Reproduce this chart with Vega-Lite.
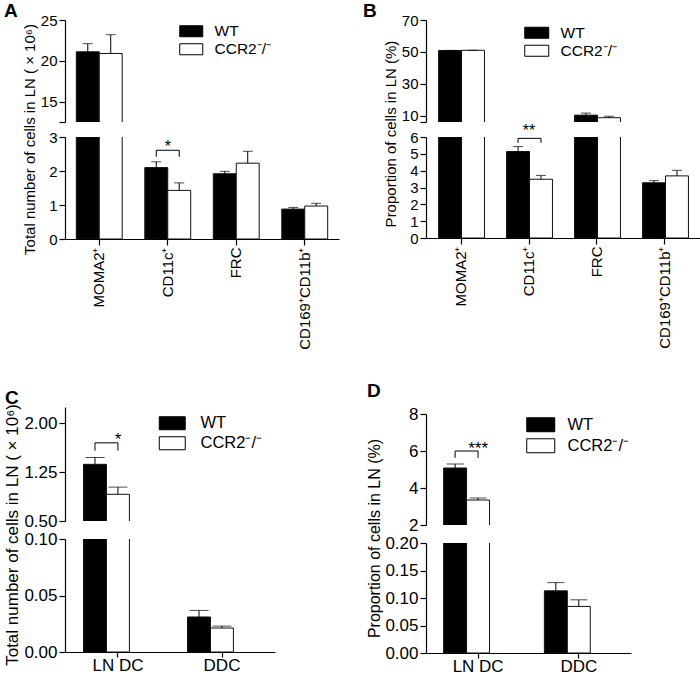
{
  "$schema": "https://vega.github.io/schema/vega-lite/v6.json",
  "background": "white",
  "padding": {"left": 2, "top": 2, "right": 0, "bottom": 0},
  "datasets": {
    "A": [
      {"cat": "MOMA2⁺", "grp": "WT", "v": 21.1, "e": 22.1},
      {"cat": "MOMA2⁺", "grp": "CCR2⁻/⁻", "v": 20.9, "e": 23.2},
      {"cat": "CD11c⁺", "grp": "WT", "v": 2.1, "e": 2.27},
      {"cat": "CD11c⁺", "grp": "CCR2⁻/⁻", "v": 1.43, "e": 1.65},
      {"cat": "FRC", "grp": "WT", "v": 1.92, "e": 1.99},
      {"cat": "FRC", "grp": "CCR2⁻/⁻", "v": 2.23, "e": 2.58},
      {"cat": "CD169⁺CD11b⁺", "grp": "WT", "v": 0.88, "e": 0.93},
      {"cat": "CD169⁺CD11b⁺", "grp": "CCR2⁻/⁻", "v": 0.97, "e": 1.05}
    ],
    "Asig": [
      {"cat": "CD11c⁺", "grp": "WT", "y": 2.42, "o": 1},
      {"cat": "CD11c⁺", "grp": "WT", "y": 2.61, "o": 2},
      {"cat": "CD11c⁺", "grp": "CCR2⁻/⁻", "y": 2.61, "o": 3},
      {"cat": "CD11c⁺", "grp": "CCR2⁻/⁻", "y": 2.42, "o": 4}
    ],
    "Astar": [{"cat": "CD11c⁺", "y": 2.61, "t": "*"}],
    "B": [
      {"cat": "MOMA2⁺", "grp": "WT", "v": 50.9, "e": 50.9},
      {"cat": "MOMA2⁺", "grp": "CCR2⁻/⁻", "v": 51.0, "e": 51.0},
      {"cat": "CD11c⁺", "grp": "WT", "v": 5.14, "e": 5.43},
      {"cat": "CD11c⁺", "grp": "CCR2⁻/⁻", "v": 3.49, "e": 3.72},
      {"cat": "FRC", "grp": "WT", "v": 10.3, "e": 11.6},
      {"cat": "FRC", "grp": "CCR2⁻/⁻", "v": 8.7, "e": 9.6},
      {"cat": "CD169⁺CD11b⁺", "grp": "WT", "v": 3.28, "e": 3.41},
      {"cat": "CD169⁺CD11b⁺", "grp": "CCR2⁻/⁻", "v": 3.69, "e": 4.02}
    ],
    "Bsig": [
      {"cat": "CD11c⁺", "grp": "WT", "y": 5.65, "o": 1},
      {"cat": "CD11c⁺", "grp": "WT", "y": 5.92, "o": 2},
      {"cat": "CD11c⁺", "grp": "CCR2⁻/⁻", "y": 5.92, "o": 3},
      {"cat": "CD11c⁺", "grp": "CCR2⁻/⁻", "y": 5.65, "o": 4}
    ],
    "Bstar": [{"cat": "CD11c⁺", "y": 5.92, "t": "**"}],
    "C": [
      {"cat": "LN DC", "grp": "WT", "v": 1.37, "e": 1.475},
      {"cat": "LN DC", "grp": "CCR2⁻/⁻", "v": 0.91, "e": 1.02},
      {"cat": "DDC", "grp": "WT", "v": 0.031, "e": 0.0368},
      {"cat": "DDC", "grp": "CCR2⁻/⁻", "v": 0.0212, "e": 0.0229}
    ],
    "Csig": [
      {"cat": "LN DC", "grp": "WT", "y": 1.58, "o": 1},
      {"cat": "LN DC", "grp": "WT", "y": 1.7, "o": 2},
      {"cat": "LN DC", "grp": "CCR2⁻/⁻", "y": 1.7, "o": 3},
      {"cat": "LN DC", "grp": "CCR2⁻/⁻", "y": 1.58, "o": 4}
    ],
    "Cstar": [{"cat": "LN DC", "y": 1.7, "t": "*"}],
    "D": [
      {"cat": "LN DC", "grp": "WT", "v": 5.08, "e": 5.3},
      {"cat": "LN DC", "grp": "CCR2⁻/⁻", "v": 3.35, "e": 3.46},
      {"cat": "DDC", "grp": "WT", "v": 0.113, "e": 0.128},
      {"cat": "DDC", "grp": "CCR2⁻/⁻", "v": 0.0847, "e": 0.0967}
    ],
    "Dsig": [
      {"cat": "LN DC", "grp": "WT", "y": 5.63, "o": 1},
      {"cat": "LN DC", "grp": "WT", "y": 6.0, "o": 2},
      {"cat": "LN DC", "grp": "CCR2⁻/⁻", "y": 6.0, "o": 3},
      {"cat": "LN DC", "grp": "CCR2⁻/⁻", "y": 5.63, "o": 4}
    ],
    "Dstar": [{"cat": "LN DC", "y": 6.0, "t": "***"}]
  },
  "spacing": 24,
  "resolve": {"scale": {"fill": "independent"}, "legend": {"fill": "independent"}},
  "hconcat": [
    {
      "spacing": 39,
      "resolve": {"scale": {"fill": "independent"}, "legend": {"fill": "independent"}},
      "vconcat": [
        {
          "bounds": "flush",
          "spacing": 15,
          "resolve": {"scale": {"fill": "independent"}, "legend": {"fill": "independent"}},
          "vconcat": [
            {
              "title": {"text": "A", "frame": "group", "dx": -61, "dy": 12},
              "width": 274, "height": 102,
              "data": {"name": "A"},
              "layer": [
                {"mark": {"type": "bar", "clip": true, "stroke": "#111", "strokeWidth": 1},
                 "encoding": {
                   "x": {"field": "cat", "type": "nominal", "scale": {"domain": ["MOMA2⁺", "CD11c⁺", "FRC", "CD169⁺CD11b⁺"], "paddingInner": 0.33, "paddingOuter": 0.165}, "axis": null},
                   "xOffset": {"field": "grp", "type": "nominal", "scale": {"domain": ["WT", "CCR2⁻/⁻"]}},
                   "y": {"field": "v", "type": "quantitative", "scale": {"domain": [12.5, 25], "nice": false, "zero": false}, "axis": {"values": [12.5, 15, 20, 25], "tickCount": 40, "format": "d", "labelExpr": "datum.value == 12.5 ? '' : datum.label", "title": null, "labelOverlap": false}},
                   "y2": {"datum": 0},
                   "fill": {"field": "grp", "type": "nominal", "scale": {"domain": ["WT", "CCR2⁻/⁻"], "range": ["black", "white"]}, "legend": {"legendX": 118.5, "legendY": 3.5, "symbolType": "M-1.643,-0.786H1.643V0.786H-1.643Z", "symbolSize": 196, "labelOffset": 15.5, "rowPadding": 1, "labelFontSize": 15.5}}
                 }},
                {"mark": {"type": "rule", "clip": true, "color": "black"},
                 "encoding": {"x": {"field": "cat", "type": "nominal"}, "xOffset": {"field": "grp", "type": "nominal"}, "y": {"field": "v", "type": "quantitative"}, "y2": {"field": "e"}}},
                {"mark": {"type": "tick", "clip": true, "color": "black", "size": 10, "thickness": 1},
                 "encoding": {"x": {"field": "cat", "type": "nominal"}, "xOffset": {"field": "grp", "type": "nominal"}, "y": {"field": "e", "type": "quantitative"}}}
              ]
            },
            {
              "width": 274, "height": 102,
              "layer": [
                {"data": {"name": "A"}, "mark": {"type": "bar", "clip": true, "stroke": "#111", "strokeWidth": 1},
                 "encoding": {
                   "x": {"field": "cat", "type": "nominal", "scale": {"domain": ["MOMA2⁺", "CD11c⁺", "FRC", "CD169⁺CD11b⁺"], "paddingInner": 0.33, "paddingOuter": 0.165}, "axis": {"labelAngle": -90, "title": null, "labelFontSize": 15, "labelOverlap": false}},
                   "xOffset": {"field": "grp", "type": "nominal", "scale": {"domain": ["WT", "CCR2⁻/⁻"]}},
                   "y": {"field": "v", "type": "quantitative", "scale": {"domain": [0, 3], "nice": false}, "axis": {"values": [0, 1, 2, 3], "tickCount": 40, "format": "d", "labelOverlap": false, "title": "Total number of cells in LN ( × 10⁶)", "titleX": -31, "titleY": 2, "titleAngle": -90, "titleAlign": "center", "titleBaseline": "alphabetic"}},
                   "y2": {"datum": 0},
                   "fill": {"field": "grp", "type": "nominal", "scale": {"domain": ["WT", "CCR2⁻/⁻"], "range": ["black", "white"]}, "legend": null}
                 }},
                {"data": {"name": "A"}, "mark": {"type": "rule", "clip": true, "color": "black"},
                 "encoding": {"x": {"field": "cat", "type": "nominal"}, "xOffset": {"field": "grp", "type": "nominal"}, "y": {"field": "v", "type": "quantitative"}, "y2": {"field": "e"}}},
                {"data": {"name": "A"}, "mark": {"type": "tick", "clip": true, "color": "black", "size": 10, "thickness": 1},
                 "encoding": {"x": {"field": "cat", "type": "nominal"}, "xOffset": {"field": "grp", "type": "nominal"}, "y": {"field": "e", "type": "quantitative"}}},
                {"data": {"name": "Asig"}, "mark": {"type": "line", "color": "black", "strokeWidth": 1},
                 "encoding": {"x": {"field": "cat", "type": "nominal"}, "xOffset": {"field": "grp", "type": "nominal"}, "y": {"field": "y", "type": "quantitative"}, "order": {"field": "o"}}},
                {"data": {"name": "Astar"}, "mark": {"type": "text", "fontSize": 16, "baseline": "alphabetic", "dy": 2, "color": "black"},
                 "encoding": {"x": {"field": "cat", "type": "nominal"}, "y": {"field": "y", "type": "quantitative"}, "text": {"field": "t"}}}
              ]
            }
          ]
        },
        {
          "bounds": "flush",
          "spacing": 18,
          "resolve": {"scale": {"fill": "independent"}, "legend": {"fill": "independent"}},
          "vconcat": [
            {
              "title": {"text": "C", "frame": "group", "dx": -60, "dy": 5},
              "width": 210, "height": 114,
              "layer": [
                {"data": {"name": "C"}, "mark": {"type": "bar", "clip": true, "stroke": "#111", "strokeWidth": 1},
                 "encoding": {
                   "x": {"field": "cat", "type": "nominal", "scale": {"domain": ["LN DC", "DDC"], "paddingInner": 0.337, "paddingOuter": 0.178}, "axis": null},
                   "xOffset": {"field": "grp", "type": "nominal", "scale": {"domain": ["WT", "CCR2⁻/⁻"]}},
                   "y": {"field": "v", "type": "quantitative", "scale": {"domain": [0.5, 2.25], "nice": false, "zero": false}, "axis": {"values": [0.5, 1.25, 2.0], "tickCount": 40, "format": ".2f", "title": null, "labelFontSize": 17, "labelOverlap": false}},
                   "y2": {"datum": 0},
                   "fill": {"field": "grp", "type": "nominal", "scale": {"domain": ["WT", "CCR2⁻/⁻"], "range": ["black", "white"]}, "legend": {"legendX": 99, "legendY": 8, "symbolType": "M-1.857,-0.929H1.857V0.929H-1.857Z", "symbolSize": 196, "labelOffset": 20, "rowPadding": 2, "labelFontSize": 16.5}}
                 }},
                {"data": {"name": "C"}, "mark": {"type": "rule", "clip": true, "color": "black"},
                 "encoding": {"x": {"field": "cat", "type": "nominal"}, "xOffset": {"field": "grp", "type": "nominal"}, "y": {"field": "v", "type": "quantitative"}, "y2": {"field": "e"}}},
                {"data": {"name": "C"}, "mark": {"type": "tick", "clip": true, "color": "black", "size": 19, "thickness": 1},
                 "encoding": {"x": {"field": "cat", "type": "nominal"}, "xOffset": {"field": "grp", "type": "nominal"}, "y": {"field": "e", "type": "quantitative"}}},
                {"data": {"name": "Csig"}, "mark": {"type": "line", "color": "black", "strokeWidth": 1},
                 "encoding": {"x": {"field": "cat", "type": "nominal"}, "xOffset": {"field": "grp", "type": "nominal"}, "y": {"field": "y", "type": "quantitative"}, "order": {"field": "o"}}},
                {"data": {"name": "Cstar"}, "mark": {"type": "text", "fontSize": 17, "baseline": "alphabetic", "dy": 2, "color": "black"},
                 "encoding": {"x": {"field": "cat", "type": "nominal"}, "y": {"field": "y", "type": "quantitative"}, "text": {"field": "t"}}}
              ]
            },
            {
              "width": 210, "height": 113,
              "data": {"name": "C"},
              "layer": [
                {"mark": {"type": "bar", "clip": true, "stroke": "#111", "strokeWidth": 1},
                 "encoding": {
                   "x": {"field": "cat", "type": "nominal", "scale": {"domain": ["LN DC", "DDC"], "paddingInner": 0.337, "paddingOuter": 0.178}, "axis": {"labelAngle": 0, "title": null, "labelFontSize": 17, "tickSize": 5, "labelPadding": 0}},
                   "xOffset": {"field": "grp", "type": "nominal", "scale": {"domain": ["WT", "CCR2⁻/⁻"]}},
                   "y": {"field": "v", "type": "quantitative", "scale": {"domain": [0, 0.1], "nice": false}, "axis": {"values": [0, 0.05, 0.1], "tickCount": 40, "format": ".2f", "labelFontSize": 17, "labelOverlap": false, "title": "Total number of cells in LN ( × 10⁶)", "titleFontSize": 17, "titleX": -48, "titleY": -4.5, "titleAngle": -90, "titleAlign": "center", "titleBaseline": "alphabetic"}},
                   "y2": {"datum": 0},
                   "fill": {"field": "grp", "type": "nominal", "scale": {"domain": ["WT", "CCR2⁻/⁻"], "range": ["black", "white"]}, "legend": null}
                 }},
                {"mark": {"type": "rule", "clip": true, "color": "black"},
                 "encoding": {"x": {"field": "cat", "type": "nominal"}, "xOffset": {"field": "grp", "type": "nominal"}, "y": {"field": "v", "type": "quantitative"}, "y2": {"field": "e"}}},
                {"mark": {"type": "tick", "clip": true, "color": "black", "size": 19, "thickness": 1},
                 "encoding": {"x": {"field": "cat", "type": "nominal"}, "xOffset": {"field": "grp", "type": "nominal"}, "y": {"field": "e", "type": "quantitative"}}}
              ]
            }
          ]
        }
      ]
    },
    {
      "spacing": 33,
      "resolve": {"scale": {"fill": "independent"}, "legend": {"fill": "independent"}},
      "vconcat": [
        {
          "bounds": "flush",
          "spacing": 15,
          "resolve": {"scale": {"fill": "independent"}, "legend": {"fill": "independent"}},
          "vconcat": [
            {
              "title": {"text": "B", "frame": "group", "dx": -63, "dy": 12},
              "width": 274, "height": 102,
              "data": {"name": "B"},
              "layer": [
                {"mark": {"type": "bar", "clip": true, "stroke": "#111", "strokeWidth": 1},
                 "encoding": {
                   "x": {"field": "cat", "type": "nominal", "scale": {"domain": ["MOMA2⁺", "CD11c⁺", "FRC", "CD169⁺CD11b⁺"], "paddingInner": 0.34, "paddingOuter": 0.185}, "axis": null},
                   "xOffset": {"field": "grp", "type": "nominal", "scale": {"domain": ["WT", "CCR2⁻/⁻"]}},
                   "y": {"field": "v", "type": "quantitative", "scale": {"domain": [6, 70], "nice": false, "zero": false}, "axis": {"values": [6, 10, 30, 50, 70], "tickCount": 40, "format": "d", "labelExpr": "datum.value == 6 ? '' : datum.label", "title": null, "labelOverlap": false}},
                   "y2": {"datum": 0},
                   "fill": {"field": "grp", "type": "nominal", "scale": {"domain": ["WT", "CCR2⁻/⁻"], "range": ["black", "white"]}, "legend": {"legendX": 103, "legendY": 5, "symbolType": "M-1.714,-0.786H1.714V0.786H-1.714Z", "symbolSize": 196, "labelOffset": 16, "rowPadding": 1, "labelFontSize": 15.5}}
                 }},
                {"mark": {"type": "rule", "clip": true, "color": "black"},
                 "encoding": {"x": {"field": "cat", "type": "nominal"}, "xOffset": {"field": "grp", "type": "nominal"}, "y": {"field": "v", "type": "quantitative"}, "y2": {"field": "e"}}},
                {"mark": {"type": "tick", "clip": true, "color": "black", "size": 10, "thickness": 1},
                 "encoding": {"x": {"field": "cat", "type": "nominal"}, "xOffset": {"field": "grp", "type": "nominal"}, "y": {"field": "e", "type": "quantitative"}}}
              ]
            },
            {
              "width": 274, "height": 101,
              "layer": [
                {"data": {"name": "B"}, "mark": {"type": "bar", "clip": true, "stroke": "#111", "strokeWidth": 1},
                 "encoding": {
                   "x": {"field": "cat", "type": "nominal", "scale": {"domain": ["MOMA2⁺", "CD11c⁺", "FRC", "CD169⁺CD11b⁺"], "paddingInner": 0.34, "paddingOuter": 0.185}, "axis": {"labelAngle": -90, "title": null, "labelFontSize": 15, "labelOverlap": false}},
                   "xOffset": {"field": "grp", "type": "nominal", "scale": {"domain": ["WT", "CCR2⁻/⁻"]}},
                   "y": {"field": "v", "type": "quantitative", "scale": {"domain": [0, 6], "nice": false}, "axis": {"values": [0, 1, 2, 3, 4, 5, 6], "tickCount": 40, "format": "d", "labelOverlap": false, "title": "Proportion of cells in LN (%)", "titleX": -31, "titleY": -3.5, "titleAngle": -90, "titleAlign": "center", "titleBaseline": "alphabetic"}},
                   "y2": {"datum": 0},
                   "fill": {"field": "grp", "type": "nominal", "scale": {"domain": ["WT", "CCR2⁻/⁻"], "range": ["black", "white"]}, "legend": null}
                 }},
                {"data": {"name": "B"}, "mark": {"type": "rule", "clip": true, "color": "black"},
                 "encoding": {"x": {"field": "cat", "type": "nominal"}, "xOffset": {"field": "grp", "type": "nominal"}, "y": {"field": "v", "type": "quantitative"}, "y2": {"field": "e"}}},
                {"data": {"name": "B"}, "mark": {"type": "tick", "clip": true, "color": "black", "size": 10, "thickness": 1},
                 "encoding": {"x": {"field": "cat", "type": "nominal"}, "xOffset": {"field": "grp", "type": "nominal"}, "y": {"field": "e", "type": "quantitative"}}},
                {"data": {"name": "Bsig"}, "mark": {"type": "line", "color": "black", "strokeWidth": 1},
                 "encoding": {"x": {"field": "cat", "type": "nominal"}, "xOffset": {"field": "grp", "type": "nominal"}, "y": {"field": "y", "type": "quantitative"}, "order": {"field": "o"}}},
                {"data": {"name": "Bstar"}, "mark": {"type": "text", "fontSize": 16, "baseline": "alphabetic", "dy": -2, "color": "black"},
                 "encoding": {"x": {"field": "cat", "type": "nominal"}, "y": {"field": "y", "type": "quantitative"}, "text": {"field": "t"}}}
              ]
            }
          ]
        },
        {
          "bounds": "flush",
          "spacing": 18,
          "resolve": {"scale": {"fill": "independent"}, "legend": {"fill": "independent"}},
          "vconcat": [
            {
              "title": {"text": "D", "frame": "group", "dx": -59, "dy": 0},
              "width": 205, "height": 111,
              "layer": [
                {"data": {"name": "D"}, "mark": {"type": "bar", "clip": true, "stroke": "#111", "strokeWidth": 1},
                 "encoding": {
                   "x": {"field": "cat", "type": "nominal", "scale": {"domain": ["LN DC", "DDC"], "paddingInner": 0.315, "paddingOuter": 0.175}, "axis": null},
                   "xOffset": {"field": "grp", "type": "nominal", "scale": {"domain": ["WT", "CCR2⁻/⁻"]}},
                   "y": {"field": "v", "type": "quantitative", "scale": {"domain": [2, 8], "nice": false, "zero": false}, "axis": {"values": [2, 4, 6, 8], "tickCount": 40, "format": "d", "title": null, "labelFontSize": 17, "labelOverlap": false}},
                   "y2": {"datum": 0},
                   "fill": {"field": "grp", "type": "nominal", "scale": {"domain": ["WT", "CCR2⁻/⁻"], "range": ["black", "white"]}, "legend": {"legendX": 106.5, "legendY": 2.5, "symbolType": "M-1.867,-0.933H1.867V0.933H-1.867Z", "symbolSize": 225, "labelOffset": 18.5, "rowPadding": 2, "labelFontSize": 16.5}}
                 }},
                {"data": {"name": "D"}, "mark": {"type": "rule", "clip": true, "color": "black"},
                 "encoding": {"x": {"field": "cat", "type": "nominal"}, "xOffset": {"field": "grp", "type": "nominal"}, "y": {"field": "v", "type": "quantitative"}, "y2": {"field": "e"}}},
                {"data": {"name": "D"}, "mark": {"type": "tick", "clip": true, "color": "black", "size": 17, "thickness": 1},
                 "encoding": {"x": {"field": "cat", "type": "nominal"}, "xOffset": {"field": "grp", "type": "nominal"}, "y": {"field": "e", "type": "quantitative"}}},
                {"data": {"name": "Dsig"}, "mark": {"type": "line", "color": "black", "strokeWidth": 1},
                 "encoding": {"x": {"field": "cat", "type": "nominal"}, "xOffset": {"field": "grp", "type": "nominal"}, "y": {"field": "y", "type": "quantitative"}, "order": {"field": "o"}}},
                {"data": {"name": "Dstar"}, "mark": {"type": "text", "fontSize": 17, "baseline": "alphabetic", "dy": 3, "color": "black"},
                 "encoding": {"x": {"field": "cat", "type": "nominal"}, "y": {"field": "y", "type": "quantitative"}, "text": {"field": "t"}}}
              ]
            },
            {
              "width": 205, "height": 110,
              "data": {"name": "D"},
              "layer": [
                {"mark": {"type": "bar", "clip": true, "stroke": "#111", "strokeWidth": 1},
                 "encoding": {
                   "x": {"field": "cat", "type": "nominal", "scale": {"domain": ["LN DC", "DDC"], "paddingInner": 0.315, "paddingOuter": 0.175}, "axis": {"labelAngle": 0, "title": null, "labelFontSize": 17, "tickSize": 5, "labelPadding": 0}},
                   "xOffset": {"field": "grp", "type": "nominal", "scale": {"domain": ["WT", "CCR2⁻/⁻"]}},
                   "y": {"field": "v", "type": "quantitative", "scale": {"domain": [0, 0.2], "nice": false}, "axis": {"values": [0, 0.05, 0.1, 0.15, 0.2], "tickCount": 40, "format": ".2f", "labelFontSize": 17, "labelOverlap": false, "title": "Proportion of cells in LN (%)", "titleFontSize": 16, "titleX": -47, "titleY": -5, "titleAngle": -90, "titleAlign": "center", "titleBaseline": "alphabetic"}},
                   "y2": {"datum": 0},
                   "fill": {"field": "grp", "type": "nominal", "scale": {"domain": ["WT", "CCR2⁻/⁻"], "range": ["black", "white"]}, "legend": null}
                 }},
                {"mark": {"type": "rule", "clip": true, "color": "black"},
                 "encoding": {"x": {"field": "cat", "type": "nominal"}, "xOffset": {"field": "grp", "type": "nominal"}, "y": {"field": "v", "type": "quantitative"}, "y2": {"field": "e"}}},
                {"mark": {"type": "tick", "clip": true, "color": "black", "size": 17, "thickness": 1},
                 "encoding": {"x": {"field": "cat", "type": "nominal"}, "xOffset": {"field": "grp", "type": "nominal"}, "y": {"field": "e", "type": "quantitative"}}}
              ]
            }
          ]
        }
      ]
    }
  ],
  "config": {
    "font": "Liberation Sans",
    "view": {"stroke": null},
    "axis": {"domainColor": "black", "tickColor": "black", "labelColor": "black", "titleColor": "black", "labelFont": "Liberation Sans", "titleFont": "Liberation Sans", "labelFontSize": 15, "titleFontSize": 15, "titleFontWeight": "normal", "grid": false, "tickSize": 6, "labelPadding": 2, "domainWidth": 1.2, "tickWidth": 1.2, "labelOverlap": false},
    "legend": {"orient": "none", "title": null, "padding": 0, "labelFont": "Liberation Sans", "labelColor": "black", "symbolStrokeColor": "black", "symbolStrokeWidth": 1},
    "title": {"font": "Liberation Sans", "fontSize": 19, "fontWeight": "bold", "anchor": "start", "color": "black", "offset": 0}
  }
}
